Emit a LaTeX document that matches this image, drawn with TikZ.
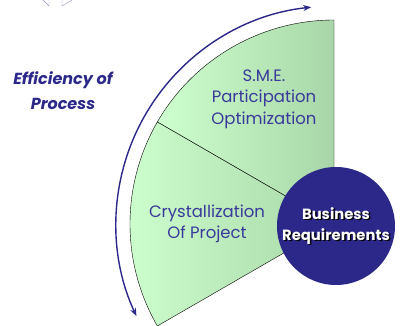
\documentclass[tikz,border=0pt]{standalone}
\usepackage{fontspec}
\setmainfont{Poppins}
\usetikzlibrary{arrows.meta,shadows}
\definecolor{navyBlue}{RGB}{43,40,138}
\definecolor{labelBlue}{RGB}{58,58,156}
\definecolor{sectorLight}{RGB}{206,255,206}
\definecolor{sectorDark}{RGB}{168,214,168}
\definecolor{ghostLine}{RGB}{150,148,190}
\tikzstyle{diagram} = [x = 1pt, y = 1pt]
\tikzstyle{sectorStyle} = [draw=black, thin, left color=sectorLight, right color=sectorDark]
\tikzstyle{sectorText} = [text=labelBlue, font=\fontsize{16.5}{21.5}\selectfont, align=center]
\tikzstyle{processText} = [text=navyBlue, font=\fontsize{16}{25}\selectfont\bfseries\itshape, align=center]
\tikzstyle{flowArrow} = [draw=navyBlue, line width=1.4pt, {Stealth[length=8pt,width=6pt]}-{Stealth[length=8pt,width=6pt]}]
\tikzstyle{businessCircle} = [circle, fill=navyBlue, minimum size=118pt, inner sep=0pt]
\tikzstyle{businessText} = [text=white, font=\fontsize{14.8}{21}\selectfont\bfseries, align=center]
\newcommand{\radius}{204}
\newcommand{\sector}[2]{\path [sectorStyle] (hub) -- ++(#1:\radius) arc (#1:#2:\radius) -- cycle;}

\begin{document}
\begin{tikzpicture}[diagram]
  \useasboundingbox (0,0) rectangle (402,326);
  \coordinate (hub) at (334,102);

  % leftovers of the slide above
  \draw [ghostLine, thin] (43,326) -- (49,320) -- (49,326);
  \draw [ghostLine, thin] (62,326) -- (62,320) -- (72,326);

  \sector{90}{150}
  \sector{150}{210}

  \draw [flowArrow] (hub) ++(96:218) arc (96:205:218);

  \node [processText] (efficiency) at (63,235) {Efficiency of\\Process};
  \node [sectorText] (sme) at (264,227) {S.M.E.\\Participation\\Optimization};
  \node [sectorText] (crystal) at (207,102) {Crystallization\\Of Project};

  \node [businessCircle] (business) at (336,100) {};
  \node [businessText, text=black] at ([shift={(1.5,-1.5)}]business.center) {Business\\Requirements};
  \node [businessText] (businessLabel) at (business.center) {Business\\Requirements};
\end{tikzpicture}
\end{document}
